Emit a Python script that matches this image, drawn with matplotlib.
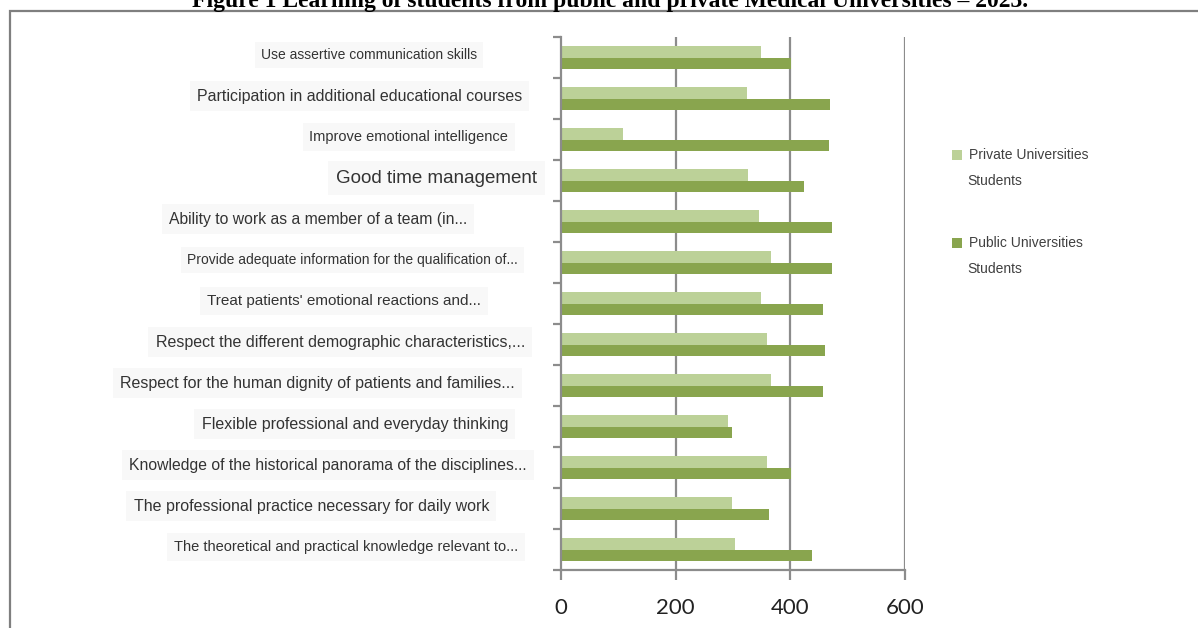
import numpy as np
import matplotlib
matplotlib.use("Agg")
from matplotlib import pyplot as plt
from matplotlib.patches import Rectangle
from matplotlib.transforms import blended_transform_factory

categories = [
    "Use assertive communication skills",
    "Participation in additional educational courses",
    "Improve emotional intelligence",
    "Good time management",
    "Ability to work as a member of a team (in...",
    "Provide adequate information for the qualification of...",
    "Treat patients' emotional reactions and...",
    "Respect the different demographic characteristics,...",
    "Respect for the human dignity of patients and families...",
    "Flexible professional and everyday thinking",
    "Knowledge of the historical panorama of the disciplines...",
    "The professional practice necessary for daily work",
    "The theoretical and practical knowledge relevant to...",
]
private_students = [349, 324, 108, 326, 345, 367, 349, 360, 367, 291, 360, 299, 304]
public_students = [401, 470, 468, 423, 472, 472, 457, 461, 457, 299, 401, 363, 437]
x_ticks = [0, 200, 400, 600]

# label look (the source image has mixed font sizes and right edges)
label_sizes = [10, 11.5, 10.5, 13.5, 11.3, 10, 11, 11.5, 11.5, 11.5, 11.3, 11.5, 10.5]
label_right_px = [477, 522, 508, 537, 467, 518, 481, 525, 515, 508, 527, 489, 518]

LIGHT = "#bcd198"
DARK = "#89a54e"
GRID = "#8c8c8c"

W, H = 1198, 628
fig = plt.figure(figsize=(W / 100, H / 100), dpi=100)
fig.patch.set_facecolor("white")

# outer frame
fig.patches.append(Rectangle((10 / W, -0.1), 1.2, 1 - 11 / H + 0.1,
                             transform=fig.transFigure, fill=False,
                             edgecolor="#7f7f7f", linewidth=1.6))

# title sits mostly above the top edge, as in the source
fig.text(610 / W, 1 - 7 / H,
         "Figure 1 Learning of students from public and private Medical Universities \u2013 2023.",
         ha="center", va="baseline", fontsize=17, fontweight="bold",
         family="Liberation Serif", color="black")

ax = fig.add_axes([561 / W, 1 - 570 / H, (905 - 561) / W, (570 - 37) / H])

y = np.arange(len(categories))
h = 0.29
ax.barh(y - h / 2, private_students, height=h, color=LIGHT, label="Private Universities\nStudents")
ax.barh(y + h / 2, public_students, height=h, color=DARK, label="Public Universities\nStudents")

ax.set_xlim(0, 600)
ax.set_ylim(len(categories) - 0.5, -0.5)

for v in x_ticks[1:]:
    ax.axvline(v, color=GRID, linewidth=1.6, zorder=0)

for s in ["top", "right"]:
    ax.spines[s].set_visible(False)
for s in ["left", "bottom"]:
    ax.spines[s].set_color(GRID)
    ax.spines[s].set_linewidth(1.6)

ax.set_xticks(x_ticks)
ax.set_xticklabels([str(t) for t in x_ticks], fontsize=16, family="Lato", color="#222222")
ax.tick_params(axis="x", length=7, width=1.6, color=GRID, pad=13)

ax.set_yticks(np.arange(len(categories) + 1) - 0.5)
ax.set_yticklabels([])
ax.tick_params(axis="y", length=6, width=1.6, color=GRID)

trans = blended_transform_factory(fig.transFigure, ax.transData)
for i, (lab, fs, rx) in enumerate(zip(categories, label_sizes, label_right_px)):
    ax.text(rx / W, i - 0.06, lab, transform=trans, ha="right", va="center",
            fontsize=fs, family="Liberation Sans", color="#333333",
            bbox=dict(boxstyle="square,pad=0.45", facecolor="#f8f8f8", edgecolor="none"),
            clip_on=False)

# legend drawn by hand to match its spread-out layout
legend_rows = [(LIGHT, "Private Universities", "Students", 155),
               (DARK, "Public Universities", "Students", 243)]
for col, l1, l2, py in legend_rows:
    fig.patches.append(Rectangle((952 / W, 1 - (py + 5) / H), 10 / W, 10 / H,
                                 transform=fig.transFigure, facecolor=col, edgecolor="none"))
    fig.text(969 / W, 1 - py / H, l1, ha="left", va="center", fontsize=10,
             family="Liberation Sans", color="#404040")
    fig.text(967 / W, 1 - (py + 26) / H, l2, ha="left", va="center", fontsize=10,
             family="Liberation Sans", color="#404040")

fig.savefig("out.png", dpi=100)
